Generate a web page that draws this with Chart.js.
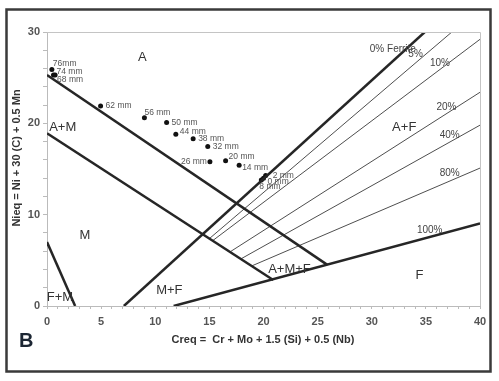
<!DOCTYPE html>
<html>
<head>
<meta charset="utf-8">
<script src="https://cdn.jsdelivr.net/npm/chart.js@4.4.1/dist/chart.umd.min.js"></script>
<style>
html,body{margin:0;padding:0;background:#fff;}
#c{display:block;}
</style>
</head>
<body>
<canvas id="c" width="499" height="381"></canvas>
<script>
// ---- boundary lines (Creq, Nieq) ----
const lineA_x = [0, 25.9];      const lineA_y = [25.3, 4.5];   // A / A+M
const lineM_x = [0, 20.9];      const lineM_y = [18.9, 2.85];  // A+M / M
const lineFM_x = [0, 2.6];      const lineFM_y = [7.0, 0];     // M / F+M
const fe0_x = [7.1, 34.9];      const fe0_y = [0, 30];         // 0% ferrite
const fe100_x = [11.7, 40];     const fe100_y = [0, 9.05];     // 100% ferrite
const fe5_x = [15.0, 37.4];     const fe5_y = [7.38, 30];
const fe10_x = [15.3, 40];      const fe10_y = [7.15, 29.2];
const fe20_x = [16.9, 40];      const fe20_y = [5.92, 23.4];
const fe40_x = [17.9, 40];      const fe40_y = [5.15, 19.8];
const fe80_x = [18.9, 40];      const fe80_y = [4.38, 15.1];

// ---- samples ----
const sampleLabels = ['76mm','74 mm','68 mm','62 mm','56 mm','50 mm','44 mm','38 mm','32 mm','26 mm','20 mm','14 mm','2 mm','0 mm','8 mm'];
const sampleCreq = [0.45, 0.6, 0.75, 4.95, 9.0, 11.05, 11.9, 13.5, 14.85, 15.05, 16.5, 17.75, 20.2, 20.0, 19.8];
const sampleNieq = [25.9, 25.3, 25.3, 21.9, 20.6, 20.1, 18.8, 18.3, 17.45, 15.8, 15.9, 15.4, 14.3, 14.0, 13.8];

// ---- tick values ----
const xTickLabels = [0, 5, 10, 15, 20, 25, 30, 35, 40];
const yTickLabels = [0, 10, 20, 30];

// ---- region / line labels (text, Creq, Nieq) ----
const regionText = ['A', 'A+M', 'M', 'F+M', 'M+F', 'A+M+F', 'F', 'A+F'];
const regionCreq = [8.8, 1.45, 3.5, 1.2, 11.3, 22.4, 34.4, 33.0];
const regionNieq = [27.2, 19.6, 7.7, 0.9, 1.75, 4.0, 3.4, 19.6];
const ferriteText = ['0% Ferrite', '5%', '10%', '20%', '40%', '80%', '100%'];
const ferriteCreq = [31.95, 34.05, 36.3, 36.9, 37.2, 37.2, 35.35];
const ferriteNieq = [28.1, 27.6, 26.6, 21.8, 18.7, 14.5, 8.3];

// label styling offsets (px) for sample tags
const tagStyle = [
  {dx:1,dy:-6,a:'left'},{dx:3,dy:-3,a:'left'},{dx:2,dy:5,a:'left'},{dx:5,dy:0,a:'left'},
  {dx:0,dy:-5,a:'left'},{dx:5,dy:0,a:'left'},{dx:4,dy:-3,a:'left'},{dx:5,dy:0,a:'left'},
  {dx:5,dy:0,a:'left'},{dx:-3,dy:0,a:'right'},{dx:3,dy:-4,a:'left'},{dx:3,dy:2,a:'left'},
  {dx:7,dy:0,a:'left'},{dx:4,dy:4,a:'left'},{dx:-2,dy:7,a:'left'}
];

function pts(xs, ys){ return xs.map((x,i)=>({x:x, y:ys[i]})); }
function lineDs(xs, ys, w){
  return {data: pts(xs, ys), showLine: true, pointRadius: 0, borderColor: w>1.5?'#262626':'#3a3a3a',
          borderWidth: w, fill: false, tension: 0};
}

const FONT = '"Liberation Sans", Arial, sans-serif';

const decor = {
  id: 'decor',
  beforeDraw(chart){
    const c = chart.ctx;
    c.save();
    c.fillStyle = '#fff';
    c.fillRect(0,0,chart.width,chart.height);
    c.restore();
  },
  afterDraw(chart){
    const c = chart.ctx, xs = chart.scales.x, ys = chart.scales.y, a = chart.chartArea;
    c.save();
    // top & right plot border
    c.strokeStyle = '#c4c4c4'; c.lineWidth = 1;
    c.beginPath();
    c.moveTo(a.left, a.top + 0.5); c.lineTo(a.right + 0.5, a.top + 0.5); c.lineTo(a.right + 0.5, a.bottom);
    c.stroke();
    // outer frame
    c.strokeStyle = '#3a3a3a'; c.lineWidth = 2.5;
    c.strokeRect(6.5, 9.5, 484, 362);
    // region labels
    c.fillStyle = '#333'; c.textAlign = 'center'; c.textBaseline = 'middle';
    c.font = '13px ' + FONT;
    regionText.forEach((t,i)=>{
      c.fillText(t, xs.getPixelForValue(regionCreq[i]), ys.getPixelForValue(regionNieq[i]));
    });
    // ferrite labels
    c.font = '10px ' + FONT; c.fillStyle = '#444';
    ferriteText.forEach((t,i)=>{
      c.fillText(t, xs.getPixelForValue(ferriteCreq[i]), ys.getPixelForValue(ferriteNieq[i]));
    });
    // sample tags
    c.font = '8.5px ' + FONT; c.fillStyle = '#555';
    sampleLabels.forEach((t,i)=>{
      const s = tagStyle[i];
      c.textAlign = s.a;
      c.fillText(t, xs.getPixelForValue(sampleCreq[i]) + s.dx, ys.getPixelForValue(sampleNieq[i]) + s.dy);
    });
    // axis titles
    c.fillStyle = '#333'; c.textAlign = 'center';
    c.font = 'bold 11px ' + FONT;
    c.fillText('Creq =  Cr + Mo + 1.5 (Si) + 0.5 (Nb)', 263, 340);
    c.save();
    c.translate(17, 158); c.rotate(-Math.PI/2);
    c.fillText('Nieq = Ni + 30 (C) + 0.5 Mn', 0, 0);
    c.restore();
    // panel letter
    c.fillStyle = '#1c2633'; c.font = 'bold 20px ' + FONT; c.textAlign = 'left';
    c.fillText('B', 19, 341);
    c.restore();
  }
};

new Chart(document.getElementById('c'), {
  type: 'scatter',
  data: {
    datasets: [
      lineDs(lineA_x, lineA_y, 2.5),
      lineDs(lineM_x, lineM_y, 2.5),
      lineDs(lineFM_x, lineFM_y, 2.5),
      lineDs(fe0_x, fe0_y, 2.5),
      lineDs(fe100_x, fe100_y, 2.5),
      lineDs(fe5_x, fe5_y, 0.9),
      lineDs(fe10_x, fe10_y, 0.9),
      lineDs(fe20_x, fe20_y, 0.9),
      lineDs(fe40_x, fe40_y, 0.9),
      lineDs(fe80_x, fe80_y, 0.9),
      {data: pts(sampleCreq, sampleNieq), pointRadius: 2.5, pointBackgroundColor: '#111',
       pointBorderColor: '#111', pointBorderWidth: 0, showLine: false}
    ]
  },
  options: {
    responsive: false,
    animation: false,
    events: [],
    layout: {padding: {left: 0, top: 32, right: 19, bottom: 0}},
    plugins: {legend: {display: false}, tooltip: {enabled: false}},
    scales: {
      x: {
        type: 'linear', min: 0, max: 40,
        afterFit(s){ s.height = 75; },
        ticks: {stepSize: 1, autoSkip: false, maxRotation: 0, padding: 6,
                color: '#555', font: {family: FONT, size: 11, weight: 'bold'},
                callback: v => xTickLabels.includes(v) ? String(v) : ''},
        grid: {drawOnChartArea: false, drawTicks: true, tickLength: 3, color: '#bbb', tickColor: '#bbb'},
        border: {display: true, color: '#bbb', width: 1}
      },
      y: {
        type: 'linear', min: 0, max: 30,
        afterFit(s){ s.width = 47; },
        ticks: {stepSize: 2, autoSkip: false, padding: 3,
                color: '#555', font: {family: FONT, size: 11, weight: 'bold'},
                callback: v => yTickLabels.includes(v) ? String(v) : ''},
        grid: {drawOnChartArea: false, drawTicks: true, tickLength: 4, color: '#bbb', tickColor: '#bbb'},
        border: {display: true, color: '#bbb', width: 1}
      }
    }
  },
  plugins: [decor]
});
</script>
</body>
</html>
